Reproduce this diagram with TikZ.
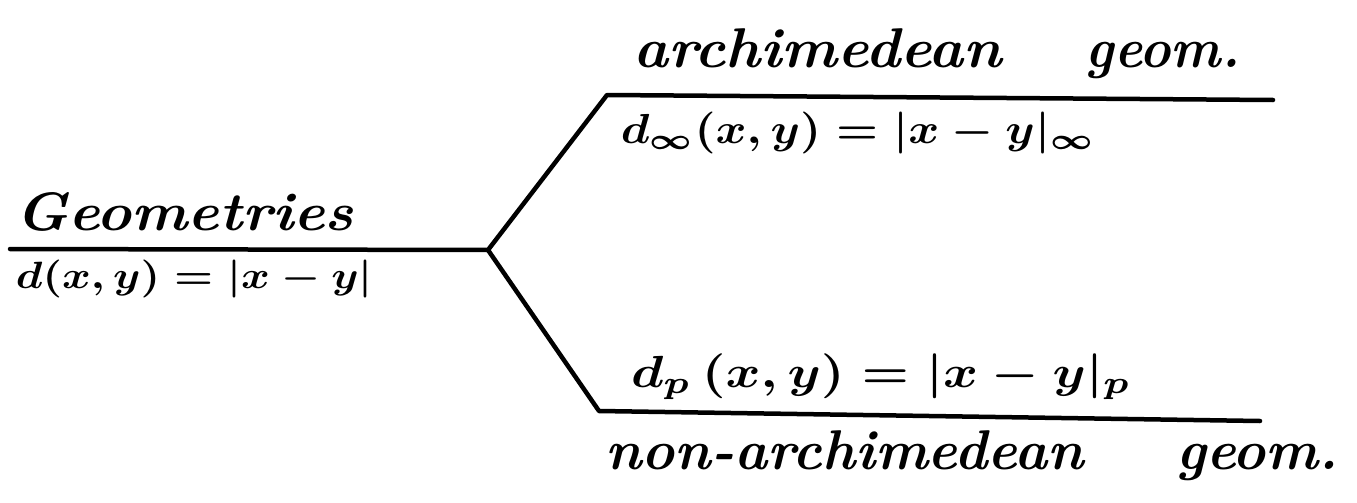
\documentclass[tikz,border=0pt]{standalone}
\usepackage{amsmath}
\begin{document}
\begin{tikzpicture}[x=1pt,y=-1pt,
  branch/.style={line width=4.5pt,line cap=round,line join=round},
  hand/.style={inner sep=0pt,anchor=base west,font=\fontsize{#1}{#1}\selectfont\bfseries\itshape},
  formula/.style={inner sep=0pt,anchor=base west,scale=#1,font=\boldmath}]
\useasboundingbox (0,0) rectangle (1357,503);
% line end points
\coordinate (s) at (10,249);
\coordinate (j) at (488,250);
\coordinate (t0) at (607,95);
\coordinate (t1) at (1273,100);
\coordinate (b0) at (599,411);
\coordinate (b1) at (1260,421);
\draw[branch] (s) -- (j) -- (t0) -- (t1);
\draw[branch] (j) -- (b0) -- (b1);
% texts
\node[hand=54,xscale=1.1] (geo) at (15,230) {Geometries};
\node[formula=3.8,xscale=1.15] (d) at (15,288) {$d(x,y)=|x-y|$};
\node[hand=56,xscale=1.055] (arch) at (633,67) {archimedean\hspace*{80pt}\scalebox{0.9}[1]{geom.}};
\node[formula=4.2,xscale=1.12] (dinf) at (620,143) {$d_\infty(x,y)=|x-y|_\infty$};
\node[formula=4.5,xscale=1.18] (dp) at (630,387) {$d_p\,(x,y)=|x-y|_p$};
\node[hand=56] (non) at (605,469) {non-archimedean\hspace*{93pt}geom.};
\end{tikzpicture}
\end{document}
